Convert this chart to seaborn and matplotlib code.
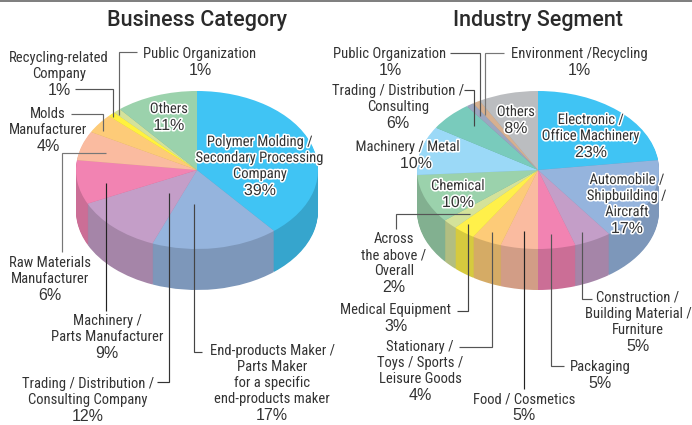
import matplotlib
matplotlib.use("Agg")
import matplotlib.pyplot as plt
import matplotlib.patheffects as pe
import seaborn as sb

W, H = 692, 425

biz_values = [39, 17, 12, 9, 6, 4, 1, 1, 11]
biz_colors = ["#40C4F4", "#95B4DD", "#C49EC8", "#F283B2", "#FABBA0", "#FDCB78", "#FFF23E", "#D4E29A", "#9BD2AC"]
biz_labels = [
    ["Polymer Molding /", "Secondary Processing", "Company"],
    ["End-products Maker /", "Parts Maker", "for a specific", "end-products maker"],
    ["Trading / Distribution /", "Consulting Company"],
    ["Machinery /", "Parts Manufacturer"],
    ["Raw Materials", "Manufacturer"],
    ["Molds", "Manufacturer"],
    ["Recycling-related", "Company"],
    ["Public Organization"],
    ["Others"],
]

ind_values = [23, 17, 5, 5, 5, 4, 3, 2, 10, 10, 6, 1, 1, 8]
ind_colors = ["#40C4F4", "#95B4DD", "#C49EC8", "#F283B2", "#FABBA0", "#FDCB78", "#FFF04A", "#D4E29A", "#9BD2AC",
              "#9BD9F7", "#79CBBC", "#9CA6C0", "#D6B090", "#BBBDC0"]
ind_labels = [
    ["Electronic /", "Office Machinery"],
    ["Automobile /", "Shipbuilding /", "Aircraft"],
    ["Construction /", "Building Material /", "Furniture"],
    ["Packaging"],
    ["Food / Cosmetics"],
    ["Stationary /", "Toys / Sports /", "Leisure Goods"],
    ["Medical Equipment"],
    ["Across", "the above /", "Overall"],
    ["Chemical"],
    ["Machinery / Metal"],
    ["Trading / Distribution /", "Consulting"],
    ["Public Organization"],
    ["Environment /Recycling"],
    ["Others"],
]

sb.set_theme(style="white")
plt.rcParams['font.family'] = ['Roboto Condensed', 'Liberation Sans', 'DejaVu Sans']

TEXT = "#333333"
RX, RY, DEPTH, CY = 121, 79, 41, 170

fig = plt.figure(figsize=(W / 100, H / 100), dpi=100, facecolor="white")

def pie_3d(cx, values, colors):
    # squashed pie, side made of darker pies stacked downwards
    pad = 4
    left = (cx - RX - pad) / W
    bottom = (H - (CY + RY + DEPTH + pad)) / H
    ax = fig.add_axes([left, bottom, (2 * RX + 2 * pad) / W, (2 * RY + DEPTH + 2 * pad) / H])
    palette = sb.color_palette(colors)
    side = [tuple(c * 0.84 for c in col) for col in palette]
    flat = {"linewidth": 0}  # seaborn theme forces white edges otherwise
    for k in range(DEPTH, 0, -1):
        ax.pie(values, colors=side, startangle=90, counterclock=False, center=(0, -k / RY), wedgeprops=flat)
    ax.pie(values, colors=palette, startangle=90, counterclock=False, center=(0, 0), wedgeprops=flat)
    ax.set_aspect("auto")
    ax.set_xlim(-1 - pad / RX, 1 + pad / RX)
    ax.set_ylim(-1 - (DEPTH + pad) / RY, 1 + pad / RY)
    ax.axis("off")

pie_3d(197, biz_values, biz_colors)
pie_3d(538, ind_values, ind_colors)

# overlay in picture pixels for titles, labels and leader lines
ov = fig.add_axes([0, 0, 1, 1], zorder=5)
ov.set_xlim(0, W)
ov.set_ylim(H, 0)
ov.axis("off")
ov.patch.set_alpha(0)
ov.fill_between([0, W], 0, 2, color="#808080", lw=0)

def leader(xs, ys, color="#3a3a3a"):
    ov.plot(xs, ys, color=color, lw=0.85, solid_joinstyle="miter", solid_capstyle="butt")

def label(cx, y, lines, value, halo=False, pct_x=None, step=16):
    fx = [pe.withStroke(linewidth=2.2, foreground="white")] if halo else None
    for i, line in enumerate(lines):
        ov.text(cx, y + i * step, line, ha="center", va="center", fontsize=10.5, color=TEXT, path_effects=fx)
    ov.text(cx if pct_x is None else pct_x, y + len(lines) * step + 0.5, f"{value}%", ha="center", va="center",
            fontsize=11.5, color=TEXT, family=['Liberation Sans'], path_effects=fx)

for cx, title in [(197, "Business Category"), (538, "Industry Segment")]:
    ov.text(cx, 20, title, ha="center", va="center", fontsize=15.5, color="#2a2a2a", family=['Roboto'], weight="medium")

# left chart
leader([137, 119, 119], [52, 52, 115], "#666666")
leader([75, 113, 113], [89, 89, 117], "#555555")
leader([71, 103, 103], [114, 114, 131], "#666666")
leader([106, 62, 62], [153, 153, 252], "#777777")
leader([106, 106], [183, 311], "#222222")
leader([169, 169, 157], [193, 382, 382], "#333333")
leader([194, 194, 202], [204, 352, 352], "#444444")

biz_pos = [(260, 142, True), (272, 351, False), (88, 384, False), (107, 321, False), (50, 263, False),
           (48, 114, False), (59, 58, False), (200, 54, False), (169, 109, True)]
for (cx, y, halo), lines, v in zip(biz_pos, biz_labels, biz_values):
    label(cx, y, lines, v, halo)

# right chart
leader([450, 480, 480], [53, 53, 116], "#555555")
leader([504, 485, 485], [53, 53, 115], "#777777")
leader([464, 474, 474], [90, 90, 126], "#444444")
leader([396, 396, 470], [229, 214, 214], "#555555")
leader([457, 468, 468], [311, 311, 224], "#444444")
leader([459, 492, 492], [347, 347, 232], "#555555")
leader([524, 524], [231, 389], "#222222")
leader([551, 551, 564], [234, 366, 366], "#555555")
leader([582, 582, 592], [232, 299, 299], "#555555")

ind_pos = [(591, 120, True, None), (627, 180, True, None), (638, 298, False, None), (600, 367, False, None),
           (524, 399, False, None), (420, 347, False, None), (396, 310, False, None), (394, 239, False, None),
           (458, 186, True, None), (408, 147, True, 416), (398, 91, False, None), (390, 54, False, None),
           (579, 54, False, None), (516, 112, True, None)]
for (cx, y, halo, px), lines, v in zip(ind_pos, ind_labels, ind_values):
    label(cx, y, lines, v, halo, px)

fig.savefig("out.png", dpi=100)
